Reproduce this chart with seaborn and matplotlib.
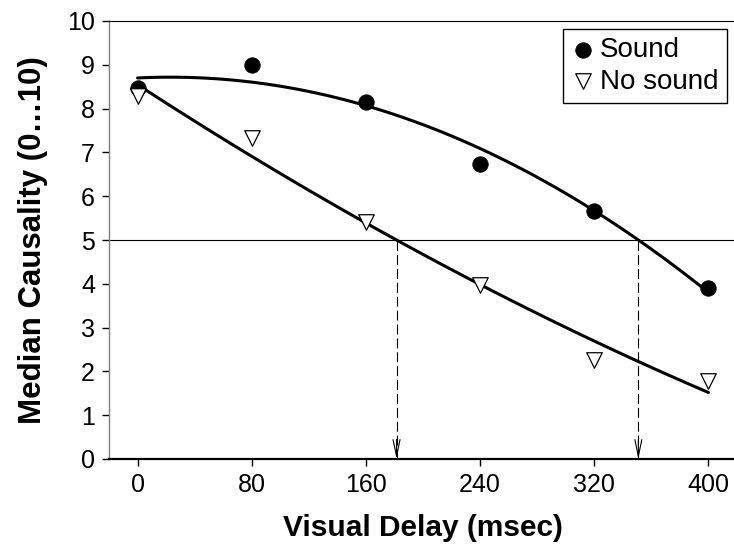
import numpy as np
import pandas as pd
import matplotlib
matplotlib.use('Agg')
import matplotlib.pyplot as plt
import seaborn as sns

# values
delay = [0, 80, 160, 240, 320, 400]
sound = [8.47, 9.0, 8.16, 6.73, 5.67, 3.90]
no_sound = [8.29, 7.33, 5.41, 3.97, 2.26, 1.78]
criterion = 5

sns.set_style('ticks', rc={'text.color': 'black', 'axes.labelcolor': 'black',
                           'xtick.color': 'black', 'ytick.color': 'black'})
plt.rcParams['font.family'] = ['Liberation Sans', 'DejaVu Sans']

df = pd.DataFrame({'delay': delay, 'Sound': sound, 'No sound': no_sound})

fig = plt.figure(figsize=(7.34, 5.45), dpi=100)
ax = fig.add_axes([109 / 734, 86 / 545, 628 / 734, 438 / 545])

# quadratic trend lines
for col in ['Sound', 'No sound']:
    sns.regplot(data=df, x='delay', y=col, order=2, ci=None, scatter=False,
                truncate=True, ax=ax, line_kws=dict(color='black', lw=2.2))

sns.scatterplot(data=df, x='delay', y='Sound', marker='o', s=125, color='black',
                edgecolor='black', linewidth=0.5, label='Sound', ax=ax, zorder=4)
sns.scatterplot(data=df, x='delay', y='No sound', marker='v', s=125, color='white',
                edgecolor='black', linewidth=0.9, label='No sound', ax=ax, zorder=4)

# criterion line + arrows where each fit crosses it
ax.axhline(criterion, color='black', lw=0.8, zorder=1)
for col in ['Sound', 'No sound']:
    coef = np.polyfit(delay, df[col], 2)
    coef[-1] -= criterion
    r = [z.real for z in np.roots(coef) if abs(z.imag) < 1e-9 and 0 <= z.real <= 400][0]
    ax.vlines(r, 0, criterion, colors='black', lw=0.8, linestyles=(0, (9, 3.5)), zorder=1)
    ax.annotate('', xy=(r, 0), xytext=(r, 0.45),
                arrowprops=dict(arrowstyle='->,head_length=1.2,head_width=0.25',
                                lw=0.8, color='black', shrinkA=0, shrinkB=0,
                                mutation_scale=10))

ax.set_xlim(-20, 420)
ax.set_ylim(0, 10)
ax.set_xticks(delay)
ax.set_yticks(range(0, 11))
ax.tick_params(direction='out', length=5, width=1, labelsize=18, color='black')
ax.tick_params(axis='x', pad=5)
ax.tick_params(axis='y', pad=5)

ax.set_xlabel('Visual Delay (msec)', fontsize=21.5, fontweight='bold', labelpad=12)
ax.set_ylabel('Median Causality (0…10)', fontsize=22.5, fontweight='bold', labelpad=14)

ax.spines['right'].set_visible(False)
ax.spines['top'].set_linewidth(0.8)
ax.spines['top'].set_color('black')
ax.spines['left'].set_color('#808080')
ax.spines['left'].set_linewidth(1)
ax.spines['bottom'].set_linewidth(1.6)
ax.spines['bottom'].set_color('black')

leg = ax.legend(loc='upper right', bbox_to_anchor=(0.984, 0.982), frameon=True,
                fancybox=False, edgecolor='black', framealpha=1, fontsize=20,
                handletextpad=0.15, handlelength=0.9, borderpad=0.3,
                labelspacing=0.2, borderaxespad=0, markerscale=1.0)
leg.get_frame().set_linewidth(1)

fig.savefig('out.png', dpi=100)
